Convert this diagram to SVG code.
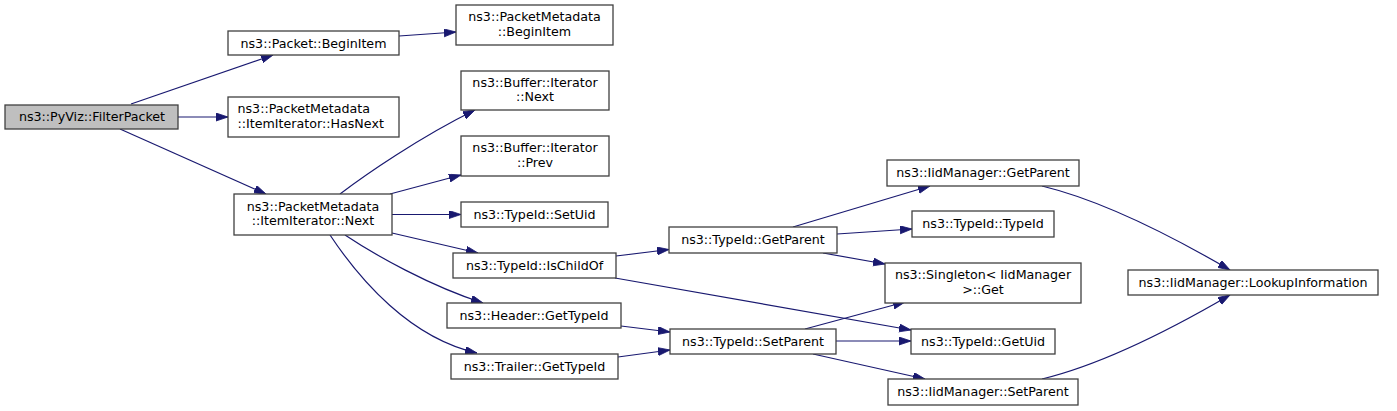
<svg xmlns="http://www.w3.org/2000/svg" width="1397" height="411" viewBox="0 0 1397 411">
<style>
.n rect{fill:#ffffff;stroke:#404040;stroke-width:1.3}
.n.root rect{fill:#bfbfbf}
.n text{font-family:"DejaVu Sans",sans-serif;font-size:12.67px;fill:#000000;text-anchor:middle}
.n text.l{text-anchor:start}
.e path{fill:none;stroke:#191970;stroke-width:1.2;marker-end:url(#ah)}
</style>
<defs>
<marker id="ah" markerUnits="userSpaceOnUse" markerWidth="13" markerHeight="9" refX="12" refY="4" orient="auto">
<path d="M0,0 L12,4 L0,8 z" fill="#191970" stroke="#191970" stroke-width="0.8"/>
</marker>
</defs>
<rect width="1397" height="411" fill="#ffffff"/>
<g id="edges" class="e">
<path d="M131,104 L273,55"/>
<path d="M178,117 L228,117"/>
<path d="M120,129 L266,194"/>
<path d="M399,36 L456,32"/>
<path d="M340,194 C365,175 420,137 475,110"/>
<path d="M390,194 L461,175"/>
<path d="M392,214.5 L461,214.5"/>
<path d="M392,233 L478,253"/>
<path d="M345,235 C375,255 430,286 483,303"/>
<path d="M330,235 C360,280 410,338 477,353"/>
<path d="M616,256 L669,249.5"/>
<path d="M615,278 L911,330"/>
<path d="M621,326 L670,332"/>
<path d="M618,357 L670,350"/>
<path d="M793,227 L930,186"/>
<path d="M837,234 L912,229"/>
<path d="M823,253 L885,264"/>
<path d="M805,329 L905,302"/>
<path d="M836,341 L911,341"/>
<path d="M813,354 L925,379"/>
<path d="M1042,186 C1100,200 1170,235 1230,270"/>
<path d="M1042,379 C1100,365 1170,330 1230,295"/>
</g>
<g id="n_filterpacket" class="n root"><rect x="5" y="105" width="173" height="24"/><text x="92" y="121">ns3::PyViz::FilterPacket</text></g>
<g id="n_packet_beginitem" class="n"><rect x="228" y="31" width="171" height="24"/><text x="313.5" y="47.5">ns3::Packet::BeginItem</text></g>
<g id="n_hasnext" class="n"><rect x="228" y="97" width="171" height="40"/><text class="l" x="237.5" y="113">ns3::PacketMetadata</text><text class="l" x="237.5" y="127.5">::ItemIterator::HasNext</text></g>
<g id="n_itemiter_next" class="n"><rect x="234" y="194" width="158" height="41"/><text x="313" y="210.5">ns3::PacketMetadata</text><text x="313" y="225">::ItemIterator::Next</text></g>
<g id="n_pm_beginitem" class="n"><rect x="456" y="5" width="157" height="40"/><text x="534.5" y="21">ns3::PacketMetadata</text><text x="534.5" y="35.5">::BeginItem</text></g>
<g id="n_buf_next" class="n"><rect x="461" y="71" width="148" height="39"/><text x="535" y="86.5">ns3::Buffer::Iterator</text><text x="535" y="101">::Next</text></g>
<g id="n_buf_prev" class="n"><rect x="461" y="136" width="148" height="40"/><text x="535" y="152">ns3::Buffer::Iterator</text><text x="535" y="166.5">::Prev</text></g>
<g id="n_setuid" class="n"><rect x="461" y="202" width="147" height="25"/><text x="534.5" y="218.5">ns3::TypeId::SetUid</text></g>
<g id="n_ischildof" class="n"><rect x="453" y="253" width="163" height="25"/><text x="534.5" y="269.5">ns3::TypeId::IsChildOf</text></g>
<g id="n_header" class="n"><rect x="447" y="303" width="174" height="25"/><text x="534" y="319.5">ns3::Header::GetTypeId</text></g>
<g id="n_trailer" class="n"><rect x="451" y="354" width="167" height="25"/><text x="534.5" y="370.5">ns3::Trailer::GetTypeId</text></g>
<g id="n_typeid_getparent" class="n"><rect x="669" y="227" width="168" height="26"/><text x="753" y="244">ns3::TypeId::GetParent</text></g>
<g id="n_typeid_setparent" class="n"><rect x="670" y="329" width="166" height="25"/><text x="753" y="345.5">ns3::TypeId::SetParent</text></g>
<g id="n_iid_getparent" class="n"><rect x="887" y="160" width="192" height="26"/><text x="983" y="177">ns3::IidManager::GetParent</text></g>
<g id="n_typeid_typeid" class="n"><rect x="912" y="211" width="142" height="26"/><text x="983" y="228">ns3::TypeId::TypeId</text></g>
<g id="n_singleton" class="n"><rect x="885" y="263" width="196" height="40"/><text x="983" y="279">ns3::Singleton&lt; IidManager</text><text x="983" y="293.5">&gt;::Get</text></g>
<g id="n_getuid" class="n"><rect x="911" y="329" width="144" height="25"/><text x="983" y="345.5">ns3::TypeId::GetUid</text></g>
<g id="n_iid_setparent" class="n"><rect x="888" y="379" width="190" height="26"/><text x="983" y="396">ns3::IidManager::SetParent</text></g>
<g id="n_lookup" class="n"><rect x="1128" y="270" width="250" height="25"/><text x="1253" y="286.5">ns3::IidManager::LookupInformation</text></g>
</svg>
